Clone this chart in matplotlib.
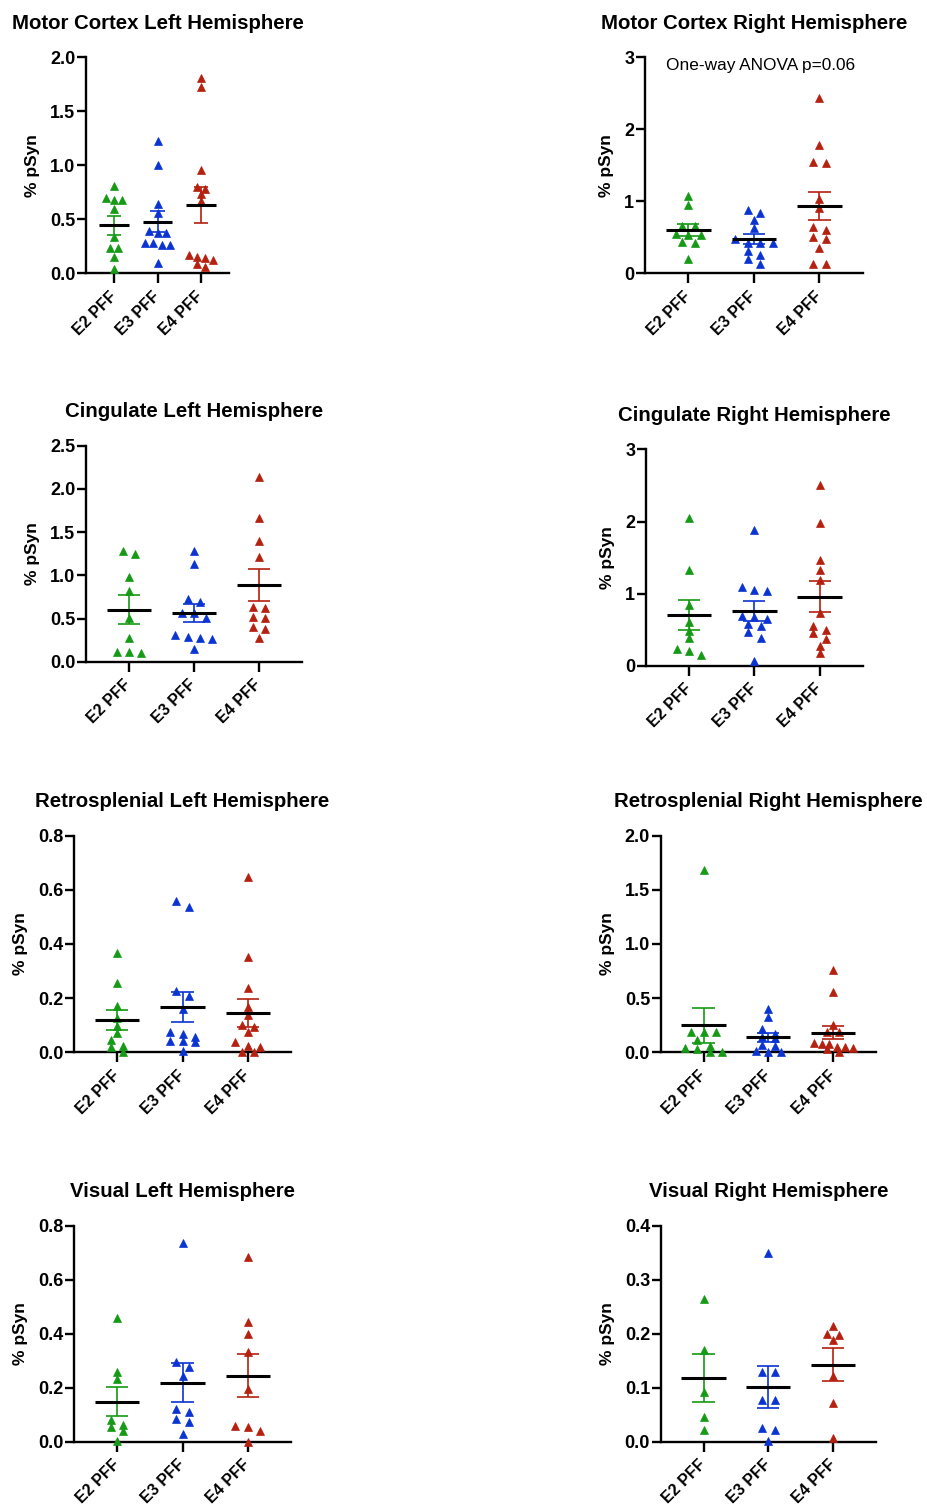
import numpy as np
import matplotlib
matplotlib.use("Agg")
import matplotlib.pyplot as plt
from matplotlib.ticker import FormatStrFormatter

plt.rcParams['font.family'] = ['Liberation Sans', 'DejaVu Sans']
plt.rcParams['font.weight'] = 'bold'

# ---------------- data ----------------
groups = ["E2 PFF", "E3 PFF", "E4 PFF"]
group_colors = ["#149a14", "#0a34d2", "#b5200f"]

mc_left_e2 = [0.808, 0.68, 0.70, 0.68, 0.593, 0.336, 0.231, 0.237, 0.148, 0.043]
mc_left_e3 = [1.225, 1.006, 0.644, 0.556, 0.376, 0.39, 0.37, 0.278, 0.265, 0.278, 0.262, 0.095]
mc_left_e4 = [1.806, 1.728, 0.957, 0.778, 0.80, 0.737, 0.669, 0.123, 0.167, 0.151, 0.139, 0.061, 0.083]

mc_right_e2 = [1.074, 0.953, 0.653, 0.653, 0.54, 0.528, 0.528, 0.417, 0.44, 0.199]
mc_right_e3 = [0.875, 0.833, 0.745, 0.629, 0.425, 0.425, 0.417, 0.481, 0.314, 0.25, 0.199, 0.125]
mc_right_e4 = [2.44, 1.782, 1.537, 1.551, 1.028, 0.907, 0.639, 0.597, 0.5, 0.481, 0.347, 0.133, 0.133]

cing_left_e2 = [1.277, 1.25, 0.984, 0.818, 0.502, 0.278, 0.104, 0.108, 0.108]
cing_left_e3 = [1.285, 1.127, 0.721, 0.687, 0.559, 0.509, 0.567, 0.309, 0.278, 0.289, 0.258, 0.147]
cing_left_e4 = [2.133, 1.663, 1.397, 1.215, 0.637, 0.617, 0.521, 0.509, 0.405, 0.378, 0.278]

cing_right_e2 = [2.054, 1.329, 0.845, 0.605, 0.489, 0.392, 0.152, 0.235, 0.208]
cing_right_e3 = [1.883, 1.038, 1.052, 1.094, 0.646, 0.674, 0.692, 0.558, 0.577, 0.466, 0.392, 0.074]
cing_right_e4 = [2.506, 1.985, 1.468, 1.329, 1.19, 0.729, 0.498, 0.554, 0.374, 0.452, 0.277, 0.175]

rsp_left_e2 = [0.366, 0.255, 0.171, 0.127, 0.098, 0.07, 0.045, 0.024, 0.021, 0.0]
rsp_left_e3 = [0.538, 0.56, 0.228, 0.208, 0.16, 0.055, 0.069, 0.076, 0.041, 0.043, 0.039, 0.005]
rsp_left_e4 = [0.649, 0.351, 0.239, 0.168, 0.138, 0.092, 0.101, 0.074, 0.038, 0.021, 0.024, 0.0, 0.0]

rsp_right_e2 = [1.683, 0.187, 0.187, 0.187, 0.114, 0.061, 0.033, 0.04, 0.006, 0.0]
rsp_right_e3 = [0.397, 0.323, 0.218, 0.172, 0.139, 0.135, 0.058, 0.07, 0.012, 0.0, 0.006]
rsp_right_e4 = [0.76, 0.56, 0.252, 0.19, 0.19, 0.089, 0.033, 0.046, 0.04, 0.052, 0.074, 0.074, 0.0]

vis_left_e2 = [0.459, 0.259, 0.231, 0.08, 0.062, 0.053, 0.041, 0.004]
vis_left_e3 = [0.735, 0.296, 0.278, 0.244, 0.121, 0.111, 0.083, 0.074, 0.027]
vis_left_e4 = [0.685, 0.442, 0.399, 0.333, 0.194, 0.058, 0.053, 0.04, 0.0]

vis_right_e2 = [0.2636, 0.17, 0.0914, 0.046, 0.0216]
vis_right_e3 = [0.349, 0.13, 0.13, 0.077, 0.077, 0.026, 0.0216, 0.002]
vis_right_e4 = [0.214, 0.198, 0.2, 0.188, 0.122, 0.072, 0.006]

titles = ["Motor Cortex Left Hemisphere", "Motor Cortex Right Hemisphere",
          "Cingulate Left Hemisphere", "Cingulate Right Hemisphere",
          "Retrosplenial Left Hemisphere", "Retrosplenial Right Hemisphere",
          "Visual Left Hemisphere", "Visual Right Hemisphere"]
panel_data = [
    (mc_left_e2, mc_left_e3, mc_left_e4),
    (mc_right_e2, mc_right_e3, mc_right_e4),
    (cing_left_e2, cing_left_e3, cing_left_e4),
    (cing_right_e2, cing_right_e3, cing_right_e4),
    (rsp_left_e2, rsp_left_e3, rsp_left_e4),
    (rsp_right_e2, rsp_right_e3, rsp_right_e4),
    (vis_left_e2, vis_left_e3, vis_left_e4),
    (vis_right_e2, vis_right_e3, vis_right_e4),
]
y_ticks = [
    [0, 0.5, 1.0, 1.5, 2.0],
    [0, 1, 2, 3],
    [0, 0.5, 1.0, 1.5, 2.0, 2.5],
    [0, 1, 2, 3],
    [0, 0.2, 0.4, 0.6, 0.8],
    [0, 0.5, 1.0, 1.5, 2.0],
    [0, 0.2, 0.4, 0.6, 0.8],
    [0, 0.1, 0.2, 0.3, 0.4],
]
y_formats = ['%.1f', '%d', '%.1f', '%d', '%.1f', '%.1f', '%.1f', '%.1f']
anova_note = "One-way ANOVA p=0.06"

# ---------------- layout (pixel boxes: left, top, right, bottom) ----------------
W, H = 927, 1504
boxes = [
    (86, 57.3, 229, 273.3),
    (645, 57.3, 862.7, 273.3),
    (86, 445.7, 301.7, 661.7),
    (646, 449.3, 862.7, 666),
    (74, 835.7, 291, 1052.3),
    (660.7, 835.7, 876, 1052.3),
    (74, 1225.7, 291, 1441.7),
    (660.7, 1225.7, 876, 1441.7),
]

fig = plt.figure(figsize=(W / 100, H / 100), dpi=100)


def swarm_offsets(values, ax, thr_px=6.0, step=0.19, maxspan=0.6):
    vals = np.asarray(values, float)
    order = np.argsort(-vals, kind='stable')
    p0 = ax.transData.transform((0, 0))[1]
    p1 = ax.transData.transform((0, 1))[1]
    ppu = p1 - p0
    offs = np.zeros(len(vals))
    rows, cur = [], []
    for i in order:
        if cur and (vals[cur[0]] - vals[i]) * ppu > thr_px:
            rows.append(cur)
            cur = []
        cur.append(i)
    if cur:
        rows.append(cur)
    for r in rows:
        n = len(r)
        if n > 1:
            st = min(step, maxspan / (n - 1))
            for k, i in enumerate(r):
                offs[i] = (k - (n - 1) / 2) * st
    return offs


for p, (title, data, ticks, fmt, box) in enumerate(zip(titles, panel_data, y_ticks, y_formats, boxes)):
    l, t, r, b = box
    ax = fig.add_axes([l / W, 1 - b / H, (r - l) / W, (b - t) / H])
    half = 0.645 if p == 0 else 0.66
    ax.set_xlim(-half, 2 + half)
    ax.set_ylim(0, ticks[-1])
    for s in ('top', 'right'):
        ax.spines[s].set_visible(False)
    for s in ('left', 'bottom'):
        ax.spines[s].set_linewidth(1.7)
    ax.set_yticks(ticks)
    ax.yaxis.set_major_formatter(FormatStrFormatter(fmt))
    ax.set_xticks(range(len(groups)))
    ax.set_xticklabels(groups, rotation=45, ha='right', va='center',
                       rotation_mode='anchor', fontsize=11.5, fontweight='bold')
    ax.tick_params(axis='y', width=1.7, length=6.2, pad=1.5, labelsize=13)
    ax.tick_params(axis='x', width=1.7, length=7.2, pad=7.5)
    ax.set_ylabel("% pSyn", fontsize=12.5, fontweight='bold', labelpad=7)
    ax.set_title(title, fontsize=14.7, fontweight='bold', pad=20.6)

    for gi, vals in enumerate(data):
        col = group_colors[gi]
        offs = swarm_offsets(vals, ax)
        ax.plot(gi + offs, vals, linestyle='none', marker='^', ms=5.4,
                color=col, mec=col, mew=0.5, clip_on=False, zorder=3)
        m = np.mean(vals)
        sem = np.std(vals, ddof=1) / np.sqrt(len(vals))
        ax.vlines(gi, m - sem, m + sem, color=col, lw=1.2, zorder=4)
        ax.hlines([m - sem, m + sem], gi - 0.17, gi + 0.17, color=col, lw=1.2, zorder=4)
        ax.hlines(m, gi - 0.34, gi + 0.34, color='black', lw=2.2, zorder=5)

    if p == 1:
        ax.text(1.1, 2.89, anova_note, ha='center', va='center',
                fontsize=12.4, fontweight='normal')

fig.savefig("out.png", dpi=100)
